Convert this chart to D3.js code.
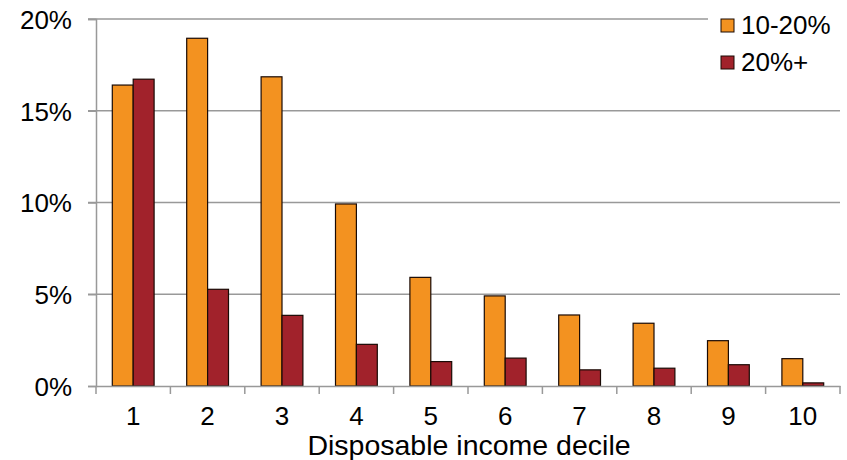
<!DOCTYPE html>
<html>
<head>
<meta charset="utf-8">
<script src="https://cdn.jsdelivr.net/npm/d3@7"></script>
<style>
  body { margin: 0; background: #fff; }
  text { font-family: "Liberation Sans", Arial, sans-serif; fill: #000; }
</style>
</head>
<body>
<div id="chart"></div>
<script>
const deciles = ["1", "2", "3", "4", "5", "6", "7", "8", "9", "10"]
const series_names = ["10-20%", "20%+"]
const share_10_20 = [16.4, 18.95, 16.85, 9.92, 5.92, 4.91, 3.87, 3.42, 2.47, 1.49]
const share_20_plus = [16.72, 5.27, 3.85, 2.27, 1.33, 1.52, 0.88, 0.97, 1.16, 0.17]
const y_ticks = [0, 5, 10, 15, 20]
const colors = ["#f39220", "#a1222b"]

const width = 847, height = 460
const margin = { left: 96, right: 7, top: 19, bottom: 74 }

const svg = d3.select("#chart")
  .append("svg")
  .attr("width", width)
  .attr("height", height)

const x = d3.scaleBand()
  .domain(deciles)
  .range([margin.left, width - margin.right])

const y = d3.scaleLinear()
  .domain([0, 20])
  .range([height - margin.bottom, margin.top])

const inner = d3.scaleBand()
  .domain(series_names)
  .range([0, x.bandwidth()])
  .paddingOuter(0.78)
  .paddingInner(0)

// gridlines
svg.append("g")
  .selectAll("line")
  .data(y_ticks.slice(1))
  .join("line")
  .attr("x1", margin.left - 8)
  .attr("x2", width - margin.right)
  .attr("y1", d => y(d))
  .attr("y2", d => y(d))
  .attr("stroke", "#999")
  .attr("stroke-width", 1.5)

// y axis
const yAxis = svg.append("g")
  .attr("transform", `translate(${margin.left},0)`)
  .call(d3.axisLeft(y).tickValues(y_ticks).tickFormat(d => d + "%").tickSize(8).tickPadding(16))
yAxis.select(".domain").attr("stroke", "#999").attr("stroke-width", 1.5)
yAxis.selectAll(".tick line").attr("stroke", "#999").attr("stroke-width", 1.5)
yAxis.selectAll(".tick text").style("font-size", "26px").attr("dy", "0.36em")

// bars
const rows = deciles.map((d, i) => ({ decile: d, values: [share_10_20[i], share_20_plus[i]] }))

const groups = svg.append("g")
  .selectAll("g")
  .data(rows)
  .join("g")
  .attr("transform", d => `translate(${x(d.decile)},0)`)

groups.selectAll("rect")
  .data(d => d.values.map((v, k) => ({ name: series_names[k], value: v, k: k })))
  .join("rect")
  .attr("x", d => inner(d.name))
  .attr("width", inner.bandwidth())
  .attr("y", d => y(d.value))
  .attr("height", d => y(0) - y(d.value))
  .attr("fill", d => colors[d.k])
  .attr("stroke", "#1a0a05")
  .attr("stroke-width", 1.2)

// x axis
const xAxis = svg.append("g")
  .attr("transform", `translate(0,${y(0)})`)
  .call(d3.axisBottom(x).tickSize(0).tickPadding(21))
xAxis.select(".domain").attr("stroke", "#999").attr("stroke-width", 1.5)
xAxis.selectAll(".tick text").style("font-size", "26px")

// tick marks at band boundaries
svg.append("g")
  .selectAll("line")
  .data(deciles.concat(["end"]))
  .join("line")
  .attr("x1", (d, i) => margin.left + i * x.step())
  .attr("x2", (d, i) => margin.left + i * x.step())
  .attr("y1", y(0))
  .attr("y2", y(0) + 8)
  .attr("stroke", "#999")
  .attr("stroke-width", 1.5)

svg.append("text")
  .attr("x", 469)
  .attr("y", 455)
  .attr("text-anchor", "middle")
  .style("font-size", "28.5px")
  .text("Disposable income decile")

// legend
svg.append("rect")
  .attr("x", 708).attr("y", 10).attr("width", 139).attr("height", 70)
  .attr("fill", "#fff")
const legendItems = svg.append("g")
  .selectAll("g")
  .data(series_names)
  .join("g")
  .attr("transform", (d, i) => `translate(721,${19 + i * 37})`)
legendItems.append("rect")
  .attr("width", 13).attr("height", 13)
  .attr("fill", (d, i) => colors[i])
  .attr("stroke", "#1a0a05")
  .attr("stroke-width", 1)
legendItems.append("text")
  .attr("x", 20)
  .attr("y", 14.5)
  .style("font-size", "26px")
  .text(d => d)
</script>
</body>
</html>
